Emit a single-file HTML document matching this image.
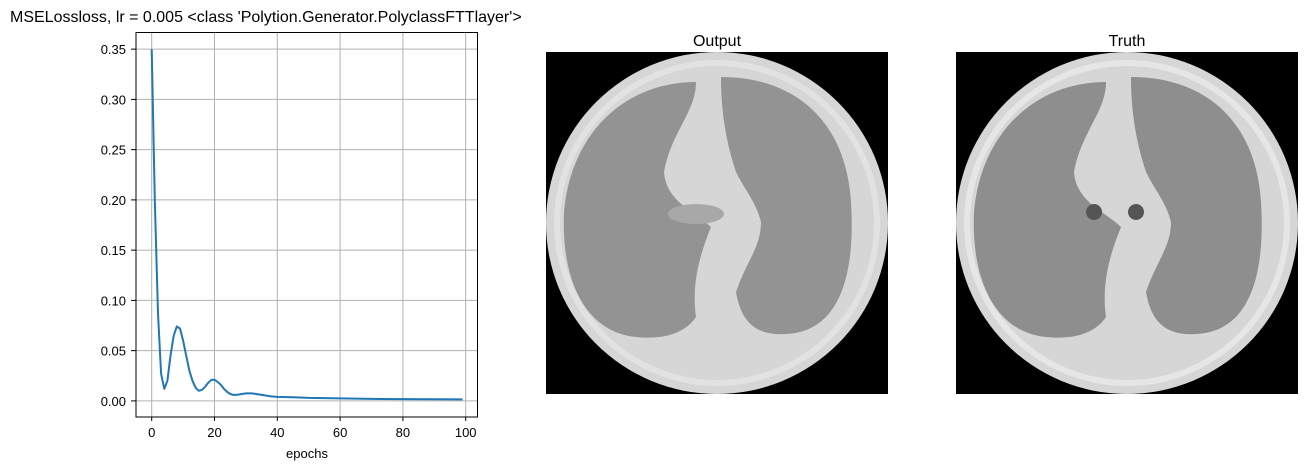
<!DOCTYPE html>
<html><head><meta charset="utf-8"><style>
html,body{margin:0;padding:0;background:#fff;width:1308px;height:470px;overflow:hidden}
svg text{font-family:"Liberation Sans","DejaVu Sans",sans-serif}
</style></head><body>
<svg id="fig" width="1308" height="470" viewBox="0 0 1308 470">
<text x="10" y="22" font-size="16" fill="#000">MSELossloss, lr = 0.005 &lt;class 'Polytion.Generator.PolyclassFTTlayer'&gt;</text>
<g id="grid"></g>
<g id="ticks"></g>
<path id="line" fill="none" stroke="#1f77b4" stroke-width="2" stroke-linejoin="round"/>
<rect x="136" y="32.5" width="341.5" height="384.5" fill="none" stroke="#000" stroke-width="1"/>
<text x="307" y="458" font-size="13" text-anchor="middle">epochs</text>

<text x="717" y="46" font-size="16" text-anchor="middle">Output</text>
<g transform="translate(546,52)">
<rect width="342" height="342" fill="#000"/>
<circle cx="171" cy="171" r="171" fill="#d6d6d6"/>
<circle cx="171" cy="171" r="160" fill="none" stroke="#e2e2e2" stroke-width="6"/>
<path d="M150,30 C80,30 25,80 18,160 C15,230 40,280 90,285 C120,288 140,280 150,265 C145,230 155,200 165,175 C150,160 120,150 118,120 C125,80 150,60 150,30 Z" fill="#939393"/>
<path d="M175,25 C250,25 300,70 305,150 C310,230 290,280 240,282 C210,284 195,270 190,240 C200,210 215,195 215,170 C210,150 200,140 190,120 C180,90 175,60 175,25 Z" fill="#939393"/>
<ellipse cx="150" cy="162" rx="28" ry="10" fill="#a8a8a8"/>
</g>

<text x="1127" y="46" font-size="16" text-anchor="middle">Truth</text>
<g transform="translate(956,52)">
<rect width="342" height="342" fill="#000"/>
<circle cx="171" cy="171" r="171" fill="#d6d6d6"/>
<circle cx="171" cy="171" r="160" fill="none" stroke="#e6e6e6" stroke-width="6"/>
<path d="M150,30 C80,30 25,80 18,160 C15,230 40,280 90,285 C120,288 140,280 150,265 C145,230 155,200 165,175 C150,160 120,150 118,120 C125,80 150,60 150,30 Z" fill="#8e8e8e"/>
<path d="M175,25 C250,25 300,70 305,150 C310,230 290,280 240,282 C210,284 195,270 190,240 C200,210 215,195 215,170 C210,150 200,140 190,120 C180,90 175,60 175,25 Z" fill="#8e8e8e"/>
<ellipse cx="138" cy="160" rx="8" ry="8" fill="#555"/>
<ellipse cx="180" cy="160" rx="8" ry="8" fill="#555"/>
</g>
</svg>
<script>
const epochs=[0,1,2,3,4,5,6,7,8,9,10,11,12,13,14,15,16,17,18,19,20,21,22,23,24,25,26,27,28,29,30,31,32,33,35,38,40,45,50,60,70,80,99];
const losses=[0.35,0.2,0.087,0.027,0.012,0.02,0.045,0.065,0.074,0.072,0.06,0.045,0.03,0.02,0.013,0.01,0.011,0.014,0.018,0.021,0.021,0.019,0.016,0.012,0.009,0.007,0.006,0.006,0.0065,0.007,0.0075,0.0075,0.0075,0.007,0.006,0.0045,0.004,0.0037,0.003,0.0025,0.002,0.0018,0.0015];
const xTicks=[0,20,40,60,80,100];
const yTicks=[0,0.05,0.10,0.15,0.20,0.25,0.30,0.35];
const yLabels=["0.00","0.05","0.10","0.15","0.20","0.25","0.30","0.35"];
const X=v=>151.7+v*3.14, Y=v=>400.9-v*1005;
const NS="http://www.w3.org/2000/svg";
const grid=document.getElementById('grid'), ticks=document.getElementById('ticks');
function mk(tag,attrs,parent){const e=document.createElementNS(NS,tag);for(const k in attrs)e.setAttribute(k,attrs[k]);parent.appendChild(e);return e;}
xTicks.forEach(t=>{
 const g=mk('line',{x1:X(t),x2:X(t),y1:32.5,y2:417,stroke:'#b0b0b0','stroke-width':1},grid);
 
 
 mk('line',{x1:X(t),x2:X(t),y1:417,y2:421,stroke:'#000'},ticks);
 const l=mk('text',{x:X(t),y:437,'font-size':13,'text-anchor':'middle'},ticks);
 l.textContent=t;
 
 
});
yTicks.forEach((t,i)=>{
 const g=mk('line',{x1:136,x2:477.5,y1:Y(t),y2:Y(t),stroke:'#b0b0b0','stroke-width':1},grid);
 
 
 mk('line',{x1:131,x2:136,y1:Y(t),y2:Y(t),stroke:'#000'},ticks);
 const l=mk('text',{x:126,y:Y(t)+5,'font-size':13,'text-anchor':'end'},ticks);
 l.textContent=yLabels[i];
 
 
});
document.getElementById('line').setAttribute('d',epochs.map((e,i)=>(i?'L':'M')+X(e).toFixed(1)+','+Y(losses[i]).toFixed(1)).join(''));
</script>
</body></html>
